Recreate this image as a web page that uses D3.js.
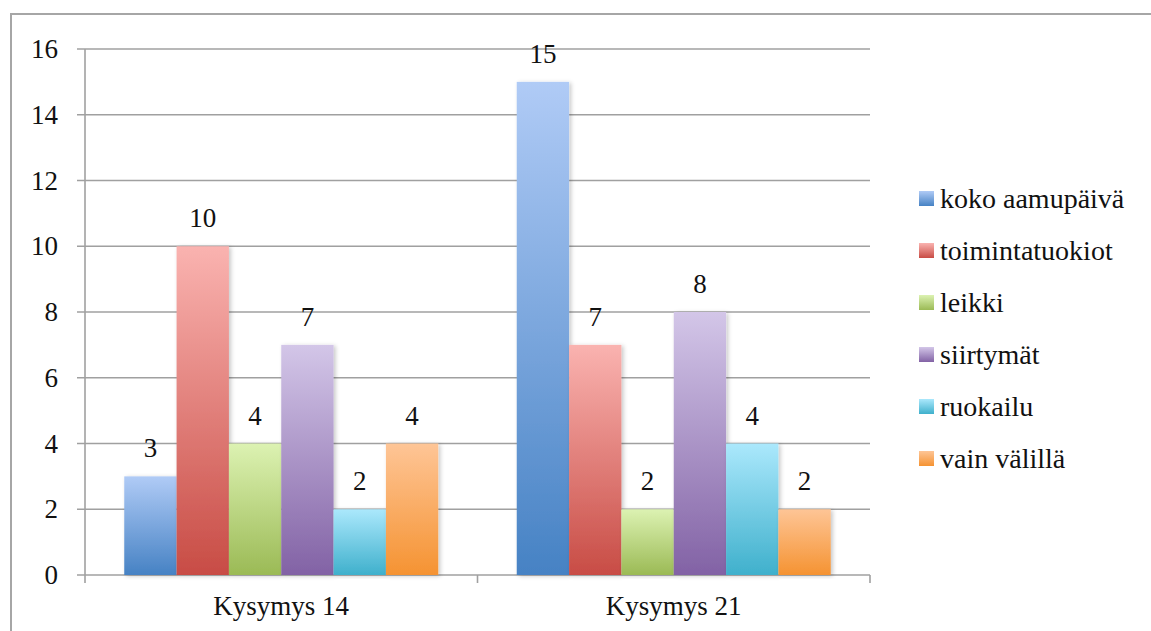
<!DOCTYPE html>
<html>
<head>
<meta charset="utf-8">
<script src="https://cdn.jsdelivr.net/npm/d3@7"></script>
<style>
  html, body { margin: 0; padding: 0; background: #fff; }
  svg { display: block; }
</style>
</head>
<body>
<svg id="chart" width="1151" height="631"></svg>
<script>
const categories = ["Kysymys 14", "Kysymys 21"];
const seriesNames = ["koko aamupäivä", "toimintatuokiot", "leikki", "siirtymät", "ruokailu", "vain välillä"];
const valuesK14 = [3, 10, 4, 7, 2, 4];
const valuesK21 = [15, 7, 2, 8, 4, 2];
const yTicks = [0, 2, 4, 6, 8, 10, 12, 14, 16];
const colorTop = ["#b0cbf6", "#fab3b0", "#dcf2b2", "#d3c6e8", "#abe8fc", "#fec596"];
const colorBottom = ["#4682c4", "#c84c45", "#9bba55", "#8262a5", "#3fb0cc", "#f59332"];

const seriesValues = [valuesK14, valuesK21];
const FONT = "'Liberation Serif', 'Times New Roman', serif";

const svg = d3.select("#chart")
  .attr("font-family", FONT);
const defs = svg.append("defs");

colorTop.forEach((c, i) => {
  const g = defs.append("linearGradient")
    .attr("id", "grad" + i)
    .attr("x1", 0).attr("y1", 0).attr("x2", 0).attr("y2", 1);
  g.append("stop").attr("offset", "0%").attr("stop-color", c);
  g.append("stop").attr("offset", "100%").attr("stop-color", colorBottom[i]);
});
const f = defs.append("filter").attr("id", "shadow")
  .attr("x", "-20%").attr("y", "-5%").attr("width", "140%").attr("height", "110%");
f.append("feDropShadow").attr("dx", 2).attr("dy", 1).attr("stdDeviation", 2)
  .attr("flood-color", "#000").attr("flood-opacity", 0.22);

// outer border
svg.append("path")
  .attr("d", "M11,640 L11,14 L1160,14")
  .attr("fill", "none").attr("stroke", "#a6a6a6").attr("stroke-width", 2);

const plot = { left: 85, right: 870, top: 49, bottom: 575 };

const y = d3.scaleLinear().domain([0, 16]).range([plot.bottom, plot.top]);
const x0 = d3.scaleBand().domain(categories).range([plot.left, plot.right]).padding(0);
const x1 = d3.scaleBand().domain(seriesNames).range([0, x0.bandwidth()])
  .paddingInner(0).paddingOuter(0.75);

const gridColor = "#a0a0a0";

// gridlines
svg.append("g").selectAll("line").data(yTicks).join("line")
  .attr("x1", plot.left - 8).attr("x2", plot.right)
  .attr("y1", d => y(d)).attr("y2", d => y(d))
  .attr("stroke", gridColor).attr("stroke-width", 1.6);

// y axis line
svg.append("line")
  .attr("x1", plot.left).attr("x2", plot.left)
  .attr("y1", plot.top).attr("y2", plot.bottom + 8)
  .attr("stroke", gridColor).attr("stroke-width", 1.6);

// category ticks
const catEdges = categories.map(c => x0(c) + x0.bandwidth());
svg.append("g").selectAll("line").data(catEdges).join("line")
  .attr("x1", d => d).attr("x2", d => d)
  .attr("y1", plot.bottom).attr("y2", plot.bottom + 8)
  .attr("stroke", gridColor).attr("stroke-width", 1.6);

// y tick labels
svg.append("g").selectAll("text").data(yTicks).join("text")
  .attr("x", 58).attr("y", d => y(d) + 9)
  .attr("text-anchor", "end")
  .attr("font-family", FONT)
  .attr("font-size", 27)
  .attr("fill", "#111")
  .text(d => d);

// bars
const groups = svg.append("g").selectAll("g").data(categories).join("g")
  .attr("transform", c => `translate(${x0(c)},0)`);

groups.each(function(c, ci) {
  const g = d3.select(this);
  const vals = seriesValues[ci];
  g.selectAll("rect").data(vals).join("rect")
    .attr("x", (d, i) => x1(seriesNames[i]))
    .attr("y", d => y(d))
    .attr("width", x1.bandwidth())
    .attr("height", d => y(0) - y(d))
    .attr("fill", (d, i) => `url(#grad${i})`)
    .attr("filter", "url(#shadow)");
  g.selectAll("text").data(vals).join("text")
    .attr("x", (d, i) => x1(seriesNames[i]) + x1.bandwidth() / 2)
    .attr("y", d => y(d) - 19)
    .attr("text-anchor", "middle")
    .attr("font-family", FONT)
    .attr("font-size", 27)
    .attr("fill", "#111")
    .text(d => d);
});

// category labels
svg.append("g").selectAll("text").data(categories).join("text")
  .attr("x", c => x0(c) + x0.bandwidth() / 2)
  .attr("y", 615)
  .attr("text-anchor", "middle")
  .attr("font-family", FONT)
  .attr("font-size", 27)
  .attr("fill", "#111")
  .text(c => c);

// legend
const legend = svg.append("g").selectAll("g").data(seriesNames).join("g")
  .attr("transform", (d, i) => `translate(919, ${198.5 + i * 52})`);
legend.append("rect")
  .attr("x", 0).attr("y", -7.5).attr("width", 15).attr("height", 15)
  .attr("fill", (d, i) => `url(#grad${i})`);
legend.append("text")
  .attr("x", 21).attr("y", 9)
  .attr("font-family", FONT)
  .attr("font-size", 28)
  .attr("fill", "#111")
  .text(d => d);
</script>
</body>
</html>
